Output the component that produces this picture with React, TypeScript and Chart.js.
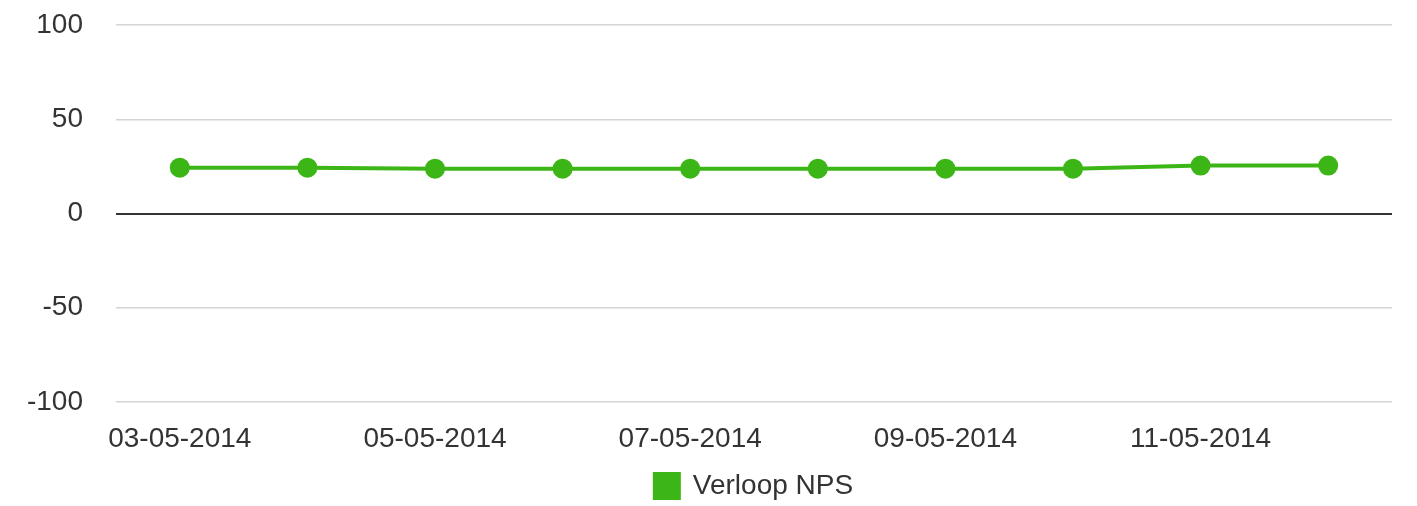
import React, { useEffect, useRef } from "react";
import { Chart, registerables } from "chart.js";

Chart.register(...registerables);

const categories = [
  "03-05-2014", "04-05-2014", "05-05-2014", "06-05-2014", "07-05-2014",
  "08-05-2014", "09-05-2014", "10-05-2014", "11-05-2014", "12-05-2014",
];
const npsValues = [24.3, 24.3, 23.8, 23.8, 23.8, 23.8, 23.8, 23.8, 25.4, 25.4];
const yTicks = [-100, -50, 0, 50, 100];
const seriesName = "Verloop NPS";

export default function App() {
  const ref = useRef<HTMLCanvasElement | null>(null);
  useEffect(() => {
    document.body.style.margin = "0";
    const font = { family: "'Liberation Sans', Arial, sans-serif", size: 28 };
    const chart = new Chart(ref.current!, {
      type: "line",
      data: {
        labels: categories,
        datasets: [
          {
            label: seriesName,
            data: npsValues,
            borderColor: "#3cb617",
            backgroundColor: "#3cb617",
            pointBackgroundColor: "#3cb617",
            pointBorderColor: "#3cb617",
            borderWidth: 4,
            pointRadius: 8,
            tension: 0,
          },
        ],
      },
      options: {
        animation: false,
        responsive: false,
        layout: { autoPadding: false, padding: { top: 25, left: 0, right: 25, bottom: -4 } },
        plugins: {
          legend: {
            position: "bottom",
            fullSize: false,
            labels: {
              font: { ...font, lineHeight: 1 },
              color: "#333",
              boxWidth: 24,
              boxHeight: 24,
              padding: 6,
            },
          },
          tooltip: { enabled: false },
        },
        scales: {
          x: {
            offset: true,
            grid: { display: false, drawTicks: false },
            border: { display: false },
            ticks: {
              font,
              color: "#333",
              autoSkip: false,
              maxRotation: 0,
              padding: 20,
              callback: (_v: any, i: number) => (i % 2 === 0 ? categories[i] : ""),
            },
            afterFit: (s: any) => {
              s.height = 64;
            },
          },
          y: {
            min: -100,
            max: 100,
            afterBuildTicks: (s: any) => {
              s.ticks = yTicks.map((v) => ({ value: v }));
            },
            grid: {
              drawTicks: true,
              tickLength: 33,
              tickColor: "rgba(0,0,0,0)",
              color: (c: any) => (c.tick && c.tick.value === 0 ? "#333" : "#d4d4d4"),
              lineWidth: (c: any) => (c.tick && c.tick.value === 0 ? 2 : 1.5),
            },
            border: { display: false },
            ticks: { font, color: "#333", padding: 0 },
            afterFit: (s: any) => {
              s.width = 116;
            },
          },
        },
      },
    });
    return () => chart.destroy();
  }, []);
  return (
    <div style={{ width: 1417, height: 506, background: "#fff" }}>
      <canvas ref={ref} width={1417} height={506} />
    </div>
  );
}
